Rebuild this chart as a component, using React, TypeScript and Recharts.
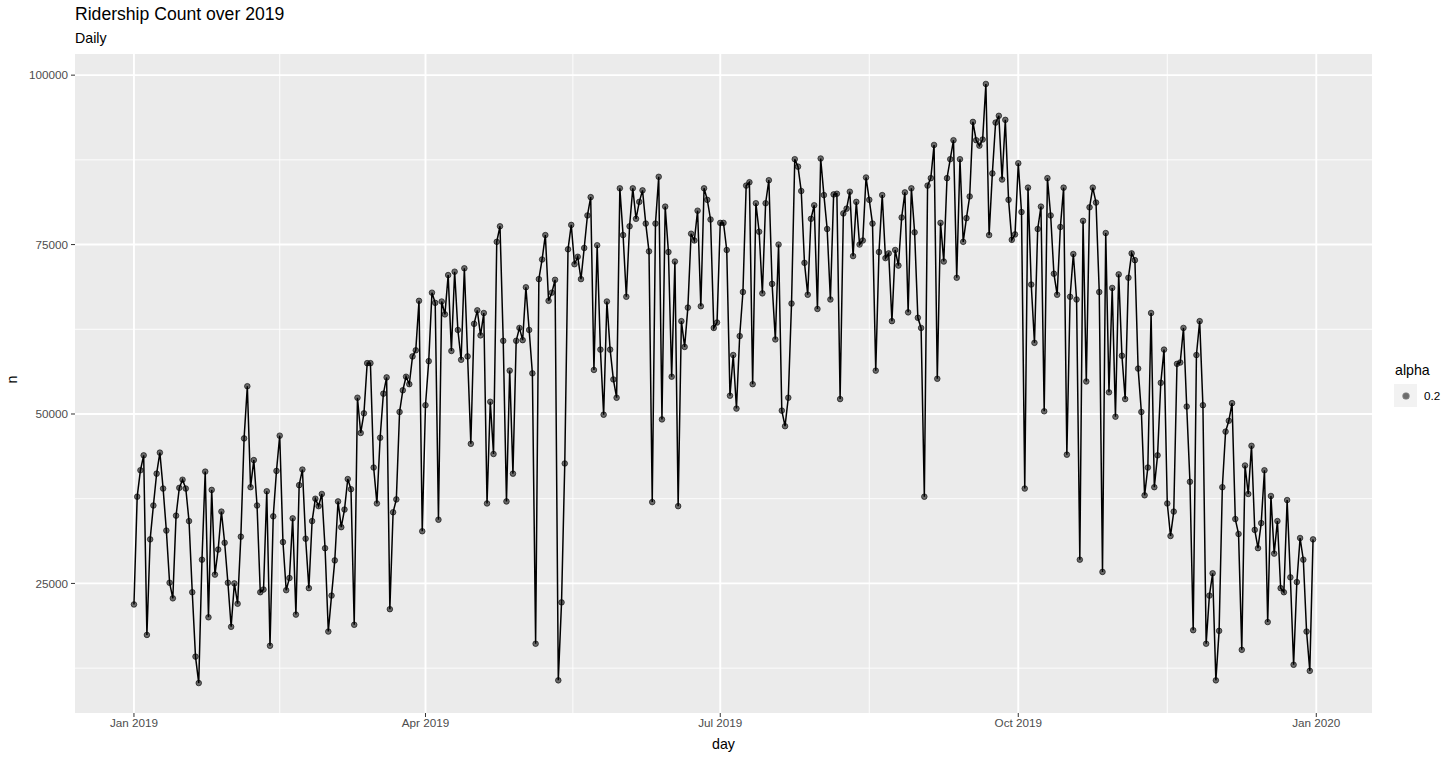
import { LineChart, Line, CartesianGrid, XAxis, YAxis } from 'recharts'

// daily ridership counts, 2019-01-01 .. 2019-12-31
const ridership = [
  21900, 37800, 41700, 43900, 17400, 31500, 36500, 41200, 44300, 39000,
  32800, 25100, 22800, 35000, 39100, 40300, 39000, 34200, 23700, 14200,
  10300, 28500, 41500, 20000, 38800, 26300, 30000, 35600, 31000, 25100,
  18600, 25000, 22000, 31900, 46400, 54100, 39200, 43200, 36500, 23700,
  24100, 38600, 15800, 34900, 41600, 46800, 31100, 24000, 25800, 34600,
  20400, 39500, 41800, 31600, 24300, 34200, 37500, 36400, 38200, 30200,
  17900, 23200, 28400, 37100, 33300, 35900, 40400, 38900, 18900, 52400,
  47200, 50100, 57500, 57500, 42100, 36800, 46500, 53000, 55400, 21200,
  35500, 37400, 50300, 53500, 55500, 54400, 58500, 59400, 66700, 32700,
  51300, 57800, 67900, 66400, 34400, 66600, 64700, 70500, 59300, 71000,
  62400, 58000, 71500, 58500, 45600, 63300, 65300, 61600, 64900, 36800,
  51800, 44100, 75400, 77700, 60800, 37100, 56400, 41200, 60800, 62700,
  60900, 68700, 62400, 56000, 16100, 69900, 72800, 76400, 66700, 67900,
  69800, 10700, 22200, 42700, 74300, 77900, 72100, 73200, 69900, 74500,
  79300, 82000, 56500, 74900, 59500, 49900, 66600, 59500, 55100, 52400,
  83300, 76400, 67300, 77700, 83300, 78800, 81300, 83000, 78100, 74000,
  37000, 78100, 85000, 49200, 80600, 73900, 55500, 72500, 36400, 63700,
  59900, 65700, 76600, 75600, 80000, 65900, 83300, 81600, 78700, 62700,
  63500, 78200, 78200, 74200, 52700, 58700, 50800, 61500, 68000, 83700,
  84200, 54400, 81100, 76900, 67800, 81100, 84500, 69200, 61000, 75000,
  50500, 48200, 52400, 66300, 87600, 86500, 82900, 72300, 67600, 78800,
  80800, 65500, 87700, 82300, 77300, 66900, 82400, 82500, 52200, 79600,
  80300, 82800, 73300, 81300, 75000, 75600, 84900, 81600, 78100, 56400,
  73900, 82300, 73000, 73700, 63700, 74200, 71900, 79000, 82700, 65000,
  83300, 76800, 64200, 62700, 37800, 83700, 84800, 89700, 55200, 78200,
  72500, 84800, 87600, 90400, 70100, 87600, 75400, 78900, 82100, 93100,
  90400, 89600, 90500, 98700, 76400, 85500, 93000, 94000, 84600, 93400,
  81600, 75700, 76500, 87000, 79800, 39000, 83400, 69100, 60500, 77300,
  80600, 50400, 84800, 79300, 70700, 67600, 77600, 83400, 44000, 67300,
  73600, 66900, 28500, 78500, 54800, 80500, 83400, 81200, 68000, 26700,
  76700, 53200, 68600, 49600, 70600, 58600, 52200, 70100, 73700, 72700,
  56700, 50300, 38000, 42100, 64900, 39200, 43900, 54600, 59500, 36800,
  32000, 35600, 57400, 57600, 62700, 51100, 40000, 18100, 58700, 63700,
  51300, 16100, 23200, 26500, 10700, 18000, 39200, 47400, 49000, 51600,
  34500, 32300, 15200, 42400, 38200, 45300, 32900, 30200, 33900, 41700,
  19300, 37900, 29400, 34200, 24300, 23700, 37300, 25900, 13000, 25200,
  31700, 28500, 17900, 12100, 31500,
]

// x axis: days since 2019-01-01
const xTickDays = [0, 90, 181, 273, 365]
const xTickLabels = ['Jan 2019', 'Apr 2019', 'Jul 2019', 'Oct 2019', 'Jan 2020']
const xMinorDays = [45, 135.5, 227, 319]

const yTicks = [25000, 50000, 75000, 100000]
const yMinor = [12500, 37500, 62500, 87500]

const data = ridership.map((n, i) => ({ day: i, n }))

const font = '"Liberation Sans", Arial, sans-serif'

export default function App() {
  return (
    <div style={{ position: 'absolute', left: 0, top: 0, width: 1456, height: 759, background: '#fff', fontFamily: font }}>
      <div style={{ position: 'absolute', left: 75, top: 3, fontSize: 17.6, lineHeight: '22px', color: '#000' }}>
        Ridership Count over 2019
      </div>
      <div style={{ position: 'absolute', left: 75, top: 29, fontSize: 14.2, lineHeight: '18px', color: '#000' }}>Daily</div>

      <LineChart width={1456} height={759} data={data} margin={{ top: 54, right: 84, bottom: 0, left: 0 }}>
        <CartesianGrid
          fill="#EBEBEB"
          stroke="#FFFFFF"
          strokeWidth={0.9}
          horizontalValues={yMinor}
          verticalValues={xMinorDays}
        />
        <CartesianGrid stroke="#FFFFFF" strokeWidth={1.9} horizontalValues={yTicks} verticalValues={xTickDays} />
        <XAxis
          dataKey="day"
          type="number"
          domain={[-18.2, 382.2]}
          allowDataOverflow
          ticks={xTickDays}
          tickFormatter={(v: number) => xTickLabels[xTickDays.indexOf(v)]}
          height={46}
          axisLine={false}
          tickSize={4}
          tickMargin={2}
          tickLine={{ stroke: '#333333', strokeWidth: 1 }}
          tick={{ fill: '#4D4D4D', fontSize: 11.7, fontFamily: font }}
          label={{ value: 'day', position: 'insideBottom', offset: 10, fill: '#000', fontSize: 14.2, fontFamily: font }}
        />
        <YAxis
          type="number"
          domain={[5880, 103120]}
          allowDataOverflow
          ticks={yTicks}
          width={75}
          axisLine={false}
          tickSize={4}
          tickMargin={3}
          tickLine={{ stroke: '#333333', strokeWidth: 1 }}
          tick={{ fill: '#4D4D4D', fontSize: 11.7, fontFamily: font }}
          label={{ value: 'n', angle: -90, position: 'insideLeft', offset: 12, fill: '#000', fontSize: 14.2, fontFamily: font }}
        />
        <Line
          type="linear"
          dataKey="n"
          stroke="#000000"
          strokeWidth={1.5}
          isAnimationActive={false}
          dot={{ r: 2.8, fill: '#000', fillOpacity: 0.55, stroke: '#000', strokeOpacity: 0.6, strokeWidth: 1 }}
        />
      </LineChart>

      {/* legend */}
      <div style={{ position: 'absolute', left: 1395, top: 361, fontSize: 14.2, lineHeight: '18px', color: '#000' }}>alpha</div>
      <div style={{ position: 'absolute', left: 1394, top: 384, width: 23, height: 23, background: '#F2F2F2' }}>
        <div
          style={{
            position: 'absolute',
            left: 8.5,
            top: 8.5,
            width: 6,
            height: 6,
            borderRadius: '50%',
            background: 'rgba(0,0,0,0.55)',
            boxShadow: '0 0 0 0.6px rgba(0,0,0,0.55)',
          }}
        />
      </div>
      <div style={{ position: 'absolute', left: 1424, top: 389, fontSize: 11.7, lineHeight: '14px', color: '#000' }}>0.2</div>
    </div>
  )
}
